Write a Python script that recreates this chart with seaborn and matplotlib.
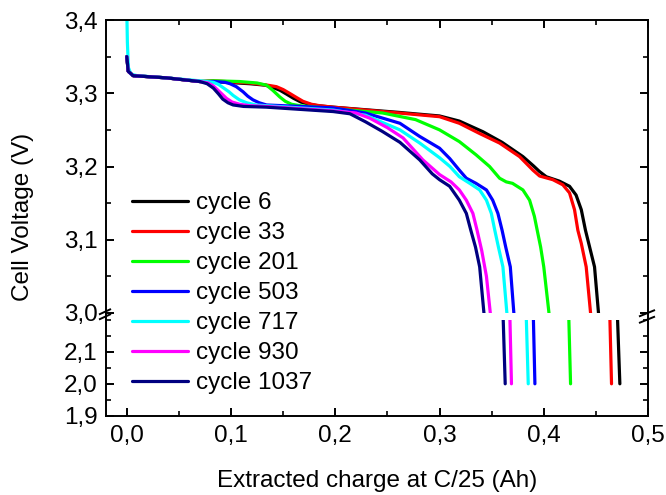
import matplotlib
matplotlib.use("Agg")
import matplotlib.pyplot as plt
import pandas as pd
import seaborn as sns
from matplotlib.lines import Line2D
from matplotlib.ticker import MultipleLocator

# ---------------- data ----------------
cycles = ["cycle 6", "cycle 33", "cycle 201", "cycle 503", "cycle 717", "cycle 930", "cycle 1037"]
colors = ["#000000", "#FF0000", "#00FF00", "#0000FF", "#00FFFF", "#FF00FF", "#000080"]

charge_c6 = [0.0, 0.0013, 0.006, 0.038, 0.07, 0.083, 0.118, 0.133, 0.14, 0.147, 0.153, 0.160, 0.167, 0.175,
             0.183, 0.198, 0.26, 0.30, 0.319, 0.3416, 0.36, 0.38, 0.390, 0.396, 0.4024, 0.415, 0.4247,
             0.431, 0.436, 0.440, 0.444, 0.4487, 0.4525, 0.4527, 0.4707, 0.473]
volt_c6 = [3.35, 3.330, 3.324, 3.321, 3.316, 3.316, 3.313, 3.311, 3.308, 3.304, 3.299, 3.293, 3.288, 3.285,
           3.283, 3.281, 3.274, 3.269, 3.262, 3.2475, 3.233, 3.2135, 3.201, 3.193, 3.186, 3.180, 3.173,
           3.161, 3.141, 3.113, 3.09, 3.063, 3.0, 2.99, 2.21, 2.0]

charge_c33 = [0.0, 0.0013, 0.006, 0.038, 0.07, 0.083, 0.118, 0.135, 0.1435, 0.150, 0.156, 0.163, 0.169, 0.177,
              0.185, 0.198, 0.2614, 0.300, 0.319, 0.3385, 0.3576, 0.3768, 0.3896, 0.396, 0.4087, 0.4183,
              0.4247, 0.4295, 0.4327, 0.436, 0.4407, 0.4449, 0.4451, 0.4634, 0.465]
volt_c33 = [3.35, 3.330, 3.324, 3.321, 3.316, 3.317, 3.314, 3.311, 3.309, 3.305, 3.300, 3.294, 3.289, 3.285,
            3.283, 3.281, 3.273, 3.268, 3.259, 3.245, 3.232, 3.2135, 3.195, 3.187, 3.182, 3.175,
            3.164, 3.141, 3.113, 3.095, 3.063, 3.0, 2.99, 2.21, 2.0]

charge_c201 = [0.0, 0.0013, 0.006, 0.038, 0.07, 0.083, 0.108, 0.125, 0.134, 0.140, 0.1467, 0.152, 0.158, 0.166,
               0.198, 0.2455, 0.277, 0.300, 0.319, 0.335, 0.348, 0.3576, 0.364, 0.370, 0.380, 0.3864, 0.391,
               0.3937, 0.397, 0.40, 0.405, 0.4052, 0.424, 0.4257]
volt_c201 = [3.35, 3.330, 3.324, 3.321, 3.316, 3.317, 3.316, 3.314, 3.311, 3.304, 3.295, 3.289, 3.285, 3.283,
             3.279, 3.273, 3.264, 3.250, 3.234, 3.216, 3.200, 3.184, 3.179, 3.177, 3.168, 3.154, 3.132,
             3.113, 3.09, 3.063, 3.0, 2.99, 2.21, 2.0]

charge_c503 = [0.0, 0.0013, 0.006, 0.038, 0.07, 0.083, 0.094, 0.099, 0.105, 0.1115, 0.116, 0.121, 0.127, 0.134,
               0.166, 0.198, 0.229, 0.262, 0.281, 0.300, 0.3097, 0.319, 0.3257, 0.335, 0.345, 0.351, 0.356,
               0.360, 0.3635, 0.3679, 0.3713, 0.3715, 0.390, 0.3915]
volt_c503 = [3.35, 3.330, 3.324, 3.321, 3.316, 3.316, 3.315, 3.313, 3.309, 3.302, 3.296, 3.291, 3.287, 3.284,
             3.282, 3.280, 3.273, 3.259, 3.241, 3.225, 3.211, 3.195, 3.184, 3.177, 3.168, 3.154, 3.136,
             3.113, 3.09, 3.063, 3.0, 2.99, 2.21, 2.0]

charge_c717 = [0.0, 0.0005, 0.0015, 0.004, 0.01, 0.038, 0.07, 0.083, 0.088, 0.093, 0.098, 0.102, 0.108, 0.115,
               0.124, 0.134, 0.198, 0.229, 0.262, 0.281, 0.300, 0.310, 0.319, 0.329, 0.3385, 0.345, 0.3497,
               0.353, 0.3565, 0.3608, 0.3646, 0.3648, 0.3832, 0.3851]
volt_c717 = [3.41, 3.37, 3.335, 3.326, 3.324, 3.321, 3.317, 3.315, 3.312, 3.307, 3.302, 3.297, 3.291, 3.287,
             3.284, 3.283, 3.277, 3.270, 3.250, 3.232, 3.212, 3.200, 3.186, 3.177, 3.168, 3.154, 3.136,
             3.113, 3.09, 3.063, 3.0, 2.99, 2.21, 2.0]

charge_c930 = [0.0, 0.0013, 0.006, 0.038, 0.07, 0.078, 0.083, 0.089, 0.0956, 0.101, 0.108, 0.118, 0.134, 0.198,
               0.22, 0.233, 0.25, 0.265, 0.284, 0.300, 0.311, 0.319, 0.3257, 0.332, 0.336, 0.3405, 0.345,
               0.3487, 0.3489, 0.3675, 0.369]
volt_c930 = [3.35, 3.330, 3.324, 3.321, 3.316, 3.314, 3.310, 3.302, 3.293, 3.288, 3.285, 3.283, 3.282, 3.276,
             3.273, 3.266, 3.253, 3.239, 3.209, 3.189, 3.179, 3.168, 3.154, 3.136, 3.113, 3.085, 3.05,
             3.0, 2.99, 2.21, 2.0]

charge_c1037 = [0.0, 0.0013, 0.006, 0.038, 0.07, 0.077, 0.083, 0.088, 0.092, 0.097, 0.102, 0.112, 0.134, 0.198,
                0.214, 0.229, 0.245, 0.262, 0.281, 0.293, 0.300, 0.3097, 0.319, 0.3257, 0.330, 0.3345, 0.3385,
                0.3426, 0.3428, 0.361, 0.363]
volt_c1037 = [3.35, 3.330, 3.324, 3.321, 3.316, 3.313, 3.307, 3.299, 3.292, 3.287, 3.284, 3.282, 3.281, 3.275,
              3.272, 3.261, 3.248, 3.233, 3.209, 3.190, 3.182, 3.173, 3.154, 3.136, 3.113, 3.09, 3.063,
              3.0, 2.99, 2.21, 2.0]

x_ticks = [0.0, 0.1, 0.2, 0.3, 0.4, 0.5]
x_tick_labels = ["0,0", "0,1", "0,2", "0,3", "0,4", "0,5"]
y_up_ticks = [3.0, 3.1, 3.2, 3.3, 3.4]
y_up_tick_labels = ["3,0", "3,1", "3,2", "3,3", "3,4"]
y_lo_ticks = [1.9, 2.0, 2.1]
y_lo_tick_labels = ["1,9", "2,0", "2,1"]

series = [(charge_c6, volt_c6), (charge_c33, volt_c33), (charge_c201, volt_c201),
          (charge_c503, volt_c503), (charge_c717, volt_c717), (charge_c930, volt_c930),
          (charge_c1037, volt_c1037)]

frames = []
for name, (xs, ys) in zip(cycles, series):
    frames.append(pd.DataFrame({"charge": xs, "voltage": ys, "cycle": name}))
df = pd.concat(frames, ignore_index=True)

# ---------------- style ----------------
sns.set_style("ticks")
FS = 17.5
plt.rcParams["font.family"] = ["Liberation Sans", "DejaVu Sans"]
plt.rcParams["font.size"] = FS
plt.rcParams["axes.linewidth"] = 1.4
for key in ["axes.edgecolor", "text.color", "axes.labelcolor", "xtick.color", "ytick.color"]:
    plt.rcParams[key] = "black"

W, H = 666, 495
fig = plt.figure(figsize=(W / 100, H / 100), dpi=100)

L, R = 106, 648
up_top, up_bot = 20, 313
lo_top, lo_bot = 320, 415.7

ax_up = fig.add_axes([L / W, 1 - up_bot / H, (R - L) / W, (up_bot - up_top) / H])
ax_lo = fig.add_axes([L / W, 1 - lo_bot / H, (R - L) / W, (lo_bot - lo_top) / H])
ax_lo.set_facecolor("none")

palette = dict(zip(cycles, colors))
for ax in (ax_up, ax_lo):
    sns.lineplot(data=df, x="charge", y="voltage", hue="cycle", hue_order=cycles, palette=palette,
                 estimator=None, sort=False, lw=2.3, ax=ax, legend=False)
    ax.set_xlim(-0.02, 0.5)
    ax.set_xlabel("")
    ax.set_ylabel("")
    ax.xaxis.set_minor_locator(MultipleLocator(0.05))
    ax.yaxis.set_minor_locator(MultipleLocator(0.05))
    ax.tick_params(which="major", direction="in", length=6, width=1.4, labelsize=FS)
    ax.tick_params(which="minor", direction="in", length=3.5, width=1.2)
    ax.set_xticks(x_ticks)

ax_up.set_ylim(3.0, 3.4)
ax_up.set_yticks(y_up_ticks)
ax_up.set_yticklabels(y_up_tick_labels)
ax_up.spines["bottom"].set_visible(False)
ax_up.tick_params(which="both", top=True, right=True, bottom=False, labelbottom=False, left=True)
ax_up.tick_params(axis="y", pad=6)

ax_lo.set_ylim(1.9, 2.2)
ax_lo.set_yticks(y_lo_ticks)
ax_lo.set_yticklabels(y_lo_tick_labels)
ax_lo.set_xticklabels(x_tick_labels)
ax_lo.spines["top"].set_visible(False)
ax_lo.tick_params(which="both", top=False, right=True, bottom=True, left=True)
ax_lo.tick_params(axis="y", pad=6)
ax_lo.tick_params(axis="x", pad=7)

# spine continuation and break marks
def px_line(x0, y0, x1, y1, lw=1.4):
    fig.add_artist(Line2D([x0 / W, x1 / W], [1 - y0 / H, 1 - y1 / H], color="black", lw=lw,
                          transform=fig.transFigure, solid_capstyle="butt"))

for xs in (L, R):
    px_line(xs, up_bot, xs, lo_top)
px_line(99, 314.5, 111, 309)
px_line(99, 319.5, 111, 314)
px_line(639, 316.5, 655, 310)
px_line(639, 323, 655, 316.5)

# legend
handles = [Line2D([], [], color=c, lw=2.3) for c in colors]
fig.legend(handles, cycles, loc="upper left", bbox_to_anchor=(132 / W, 1 - 192 / H),
           bbox_transform=fig.transFigure, frameon=False, fontsize=FS, borderpad=0,
           borderaxespad=0, handlelength=2.3, handletextpad=0.35, labelspacing=0.33)

fig.text(23.5 / W, 1 - 217 / H, "Cell Voltage (V)", rotation=90, ha="center", va="center", fontsize=FS)
fig.text(377 / W, 1 - 487 / H, "Extracted charge at C/25 (Ah)", ha="center", va="baseline", fontsize=FS)

fig.savefig("out.png", dpi=100)
